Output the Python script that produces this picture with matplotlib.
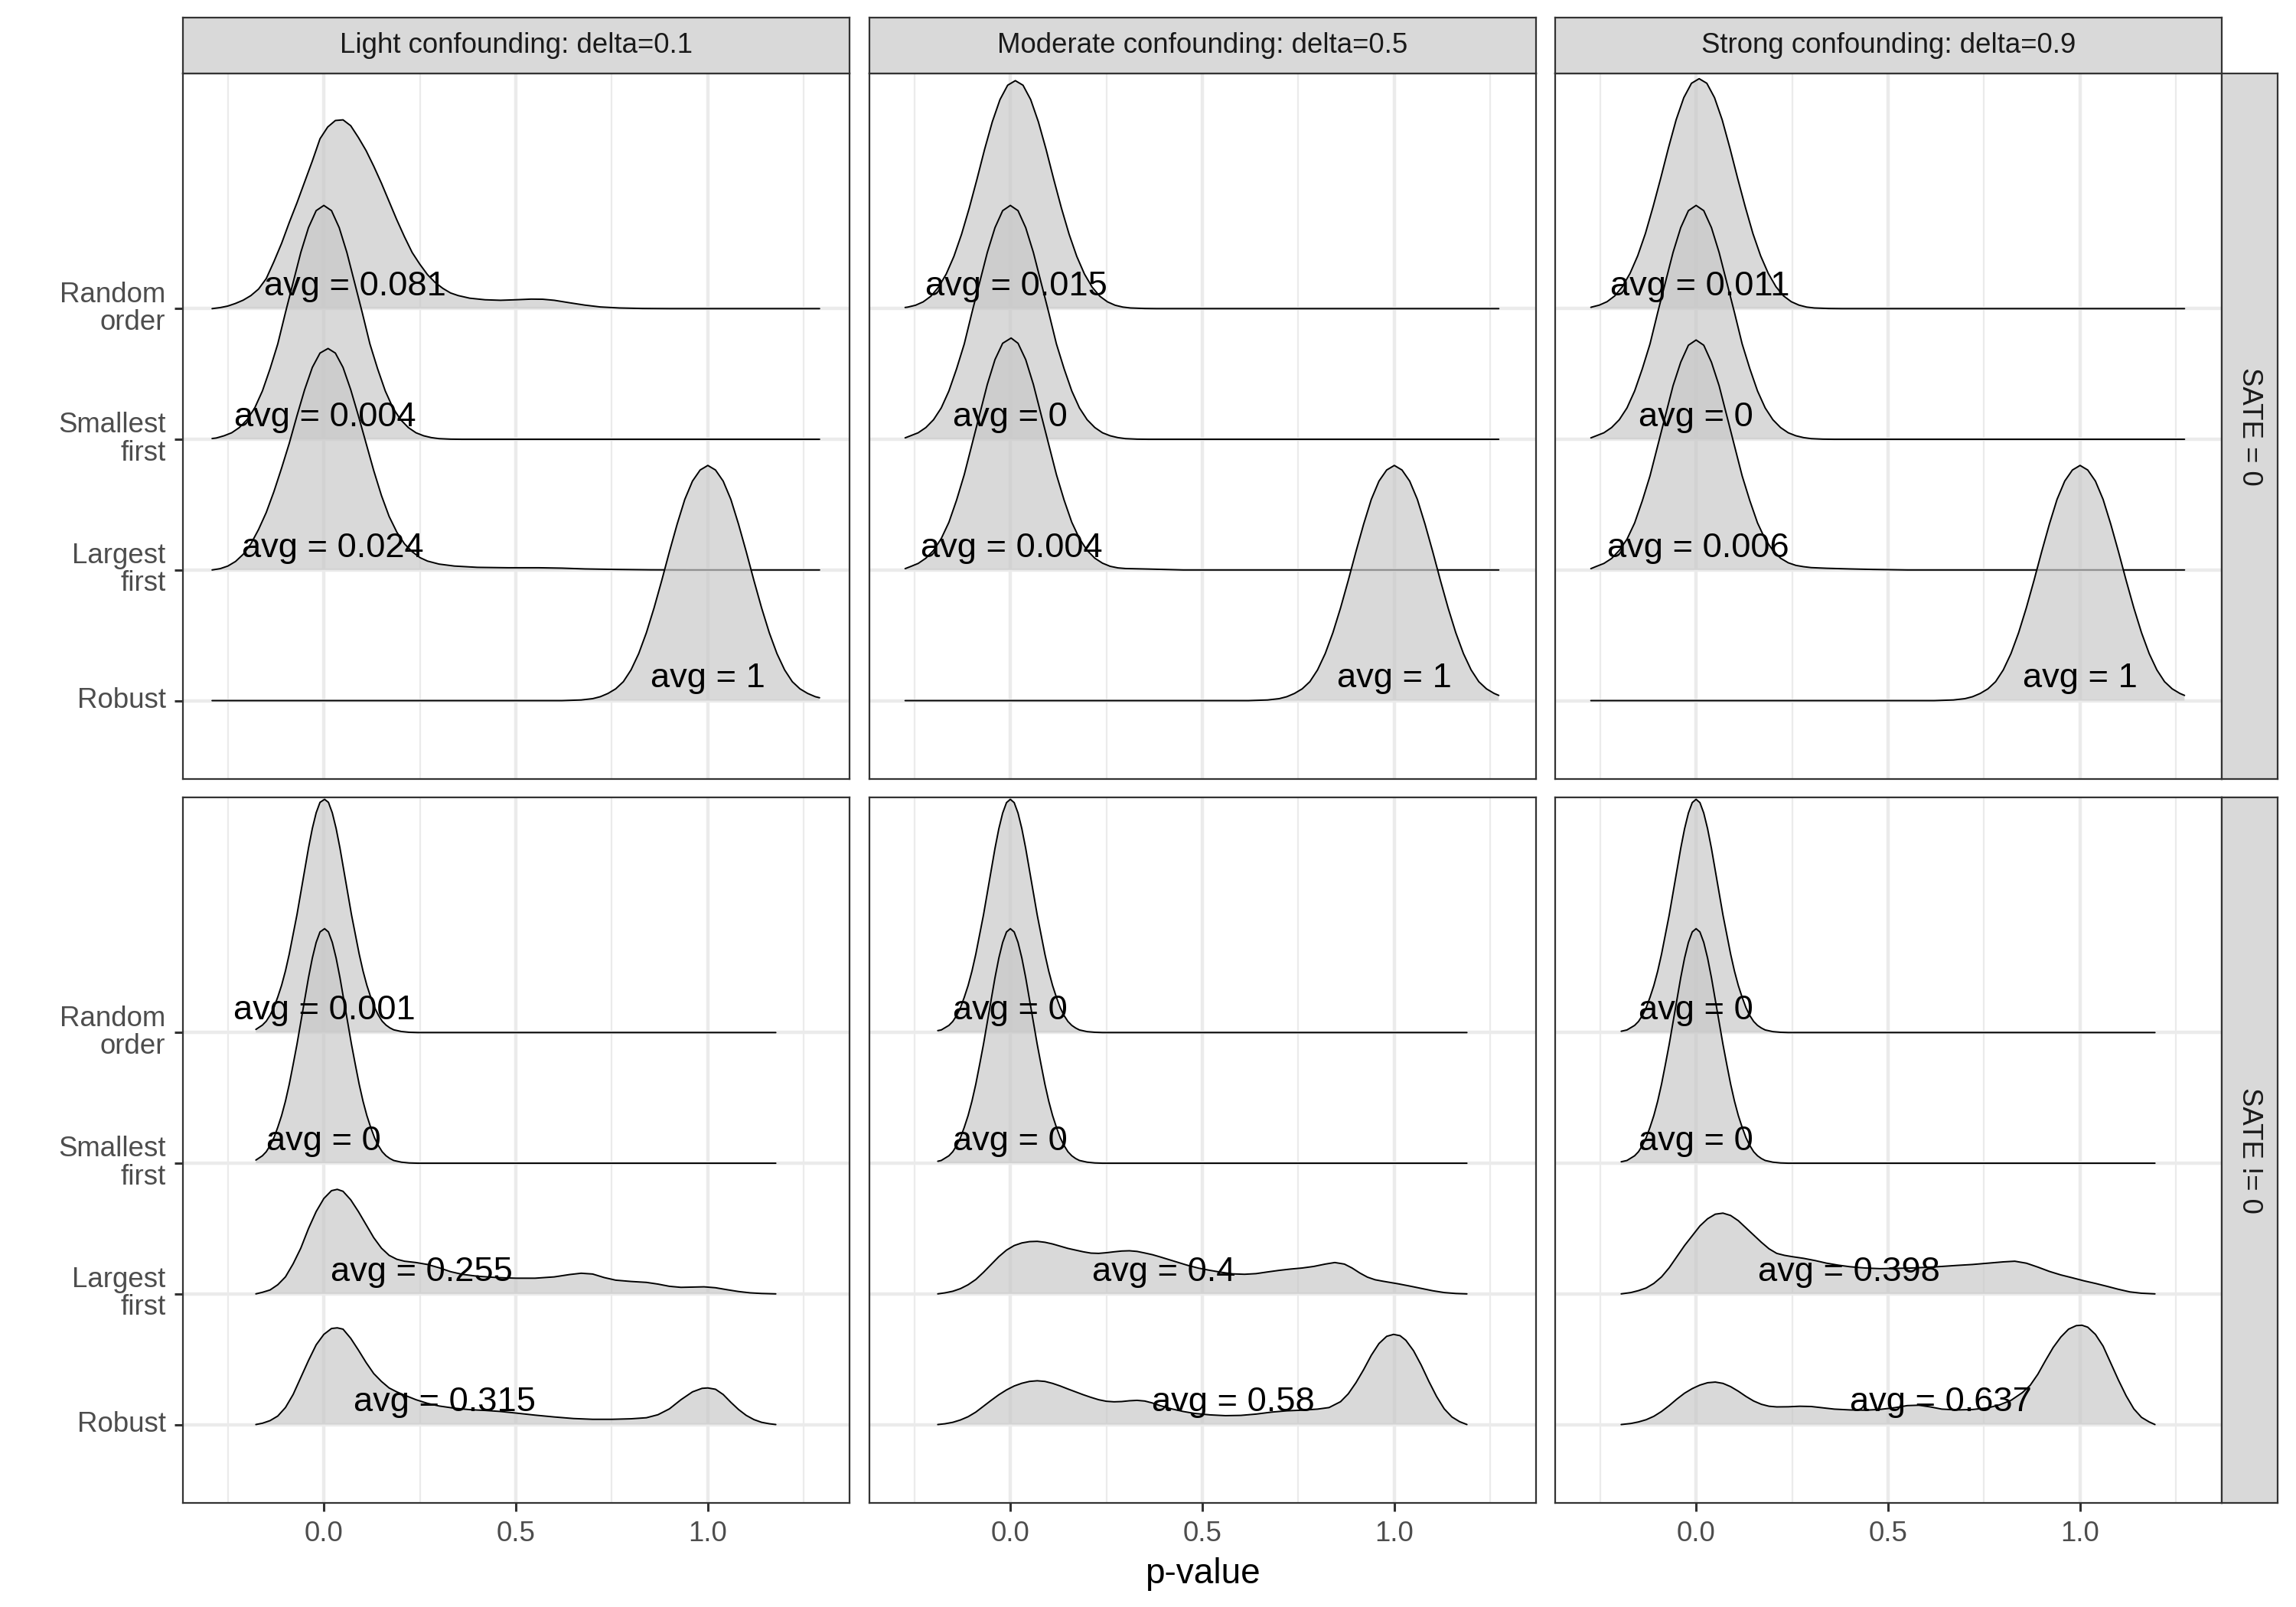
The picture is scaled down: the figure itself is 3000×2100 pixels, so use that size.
import matplotlib.pyplot as plt

plt.rcParams['font.family'] = ['Liberation Sans', 'DejaVu Sans']

# categories (bottom to top of each panel)
methods = ["Robust", "Largest\nfirst", "Smallest\nfirst", "Random\norder"]
confounding = ["Light confounding: delta=0.1",
               "Moderate confounding: delta=0.5",
               "Strong confounding: delta=0.9"]
sate_rows = ["SATE = 0", "SATE != 0"]

# average p-value per ridge, same order as methods
avg_null = [[1, 0.024, 0.004, 0.081],
            [1, 0.004, 0, 0.015],
            [1, 0.006, 0, 0.011]]
avg_alt = [[0.315, 0.255, 0, 0.001],
           [0.58, 0.4, 0, 0],
           [0.637, 0.398, 0, 0]]

# ridge heights (p-value, scaled density)
# --- SATE = 0, light confounding
null_light_random = [(-0.291, 0), (-0.27, 0.008), (-0.25, 0.02), (-0.23, 0.04), (-0.21, 0.065),
                     (-0.19, 0.10), (-0.17, 0.15), (-0.15, 0.23), (-0.13, 0.36), (-0.11, 0.50),
                     (-0.09, 0.66), (-0.07, 0.81), (-0.05, 0.97), (-0.03, 1.13), (-0.01, 1.30),
                     (0.01, 1.39), (0.03, 1.44), (0.05, 1.445), (0.07, 1.40), (0.09, 1.31),
                     (0.11, 1.21), (0.13, 1.09), (0.15, 0.96), (0.17, 0.82), (0.19, 0.68),
                     (0.21, 0.55), (0.23, 0.43), (0.25, 0.34), (0.27, 0.26), (0.29, 0.20),
                     (0.31, 0.155), (0.33, 0.12), (0.35, 0.10), (0.38, 0.08), (0.42, 0.068),
                     (0.46, 0.064), (0.50, 0.068), (0.54, 0.073), (0.57, 0.072), (0.60, 0.064),
                     (0.64, 0.045), (0.68, 0.027), (0.72, 0.013), (0.77, 0.005), (0.83, 0.001),
                     (0.9, 0), (1.291, 0)]
null_light_smallest = [(-0.291, 0.006), (-0.28, 0.01), (-0.26, 0.027), (-0.24, 0.05), (-0.22, 0.09),
                       (-0.20, 0.15), (-0.18, 0.24), (-0.16, 0.37), (-0.14, 0.54), (-0.12, 0.73),
                       (-0.10, 0.97), (-0.08, 1.20), (-0.06, 1.43), (-0.04, 1.62), (-0.02, 1.75),
                       (0.0, 1.79), (0.02, 1.75), (0.04, 1.62), (0.06, 1.43), (0.08, 1.20),
                       (0.10, 0.97), (0.12, 0.73), (0.14, 0.54), (0.16, 0.37), (0.18, 0.24),
                       (0.20, 0.15), (0.22, 0.09), (0.24, 0.05), (0.26, 0.027), (0.28, 0.013),
                       (0.30, 0.005), (0.33, 0.001), (0.36, 0), (1.291, 0)]
null_light_largest = [(-0.291, 0), (-0.27, 0.01), (-0.25, 0.03), (-0.23, 0.065), (-0.21, 0.12),
                      (-0.19, 0.20), (-0.17, 0.31), (-0.15, 0.44), (-0.13, 0.60), (-0.11, 0.78),
                      (-0.09, 0.97), (-0.07, 1.18), (-0.05, 1.38), (-0.03, 1.55), (-0.01, 1.66),
                      (0.011, 1.695), (0.03, 1.66), (0.05, 1.55), (0.07, 1.38), (0.09, 1.18),
                      (0.11, 0.97), (0.13, 0.76), (0.15, 0.57), (0.17, 0.41), (0.19, 0.29),
                      (0.21, 0.20), (0.23, 0.14), (0.25, 0.095), (0.27, 0.068), (0.30, 0.045),
                      (0.34, 0.03), (0.40, 0.02), (0.48, 0.017), (0.56, 0.017), (0.62, 0.014),
                      (0.68, 0.008), (0.76, 0.004), (0.85, 0.001), (0.95, 0), (1.291, 0)]
null_light_robust = [(-0.291, 0), (0.62, 0), (0.67, 0.005), (0.70, 0.015), (0.72, 0.03),
                     (0.74, 0.055), (0.76, 0.09), (0.78, 0.145), (0.80, 0.235), (0.82, 0.36),
                     (0.84, 0.52), (0.86, 0.71), (0.88, 0.92), (0.90, 1.14), (0.92, 1.35),
                     (0.94, 1.54), (0.96, 1.68), (0.98, 1.765), (1.0, 1.80), (1.02, 1.765),
                     (1.04, 1.68), (1.06, 1.54), (1.08, 1.35), (1.10, 1.14), (1.12, 0.92),
                     (1.14, 0.71), (1.16, 0.52), (1.18, 0.36), (1.20, 0.235), (1.22, 0.145),
                     (1.24, 0.09), (1.26, 0.055), (1.28, 0.03), (1.291, 0.022)]
# --- SATE = 0, moderate confounding
null_mod_random = [(-0.274, 0.009), (-0.267, 0.012), (-0.247, 0.026), (-0.227, 0.052),
                   (-0.207, 0.095), (-0.187, 0.165), (-0.167, 0.265), (-0.147, 0.40),
                   (-0.127, 0.57), (-0.107, 0.77), (-0.087, 0.99), (-0.067, 1.22),
                   (-0.047, 1.43), (-0.027, 1.60), (-0.007, 1.71), (0.013, 1.745),
                   (0.033, 1.71), (0.053, 1.60), (0.073, 1.43), (0.093, 1.22), (0.113, 0.99),
                   (0.133, 0.77), (0.153, 0.57), (0.173, 0.40), (0.193, 0.265), (0.213, 0.165),
                   (0.233, 0.095), (0.253, 0.052), (0.273, 0.026), (0.293, 0.012),
                   (0.313, 0.005), (0.35, 0.001), (0.38, 0), (1.272, 0)]
null_mod_smallest = [(-0.274, 0.011), (-0.26, 0.027), (-0.24, 0.05), (-0.22, 0.09), (-0.20, 0.15),
                     (-0.18, 0.24), (-0.16, 0.37), (-0.14, 0.54), (-0.12, 0.73), (-0.10, 0.97),
                     (-0.08, 1.20), (-0.06, 1.43), (-0.04, 1.62), (-0.02, 1.75), (0.0, 1.79),
                     (0.02, 1.75), (0.04, 1.62), (0.06, 1.43), (0.08, 1.20), (0.10, 0.97),
                     (0.12, 0.73), (0.14, 0.54), (0.16, 0.37), (0.18, 0.24), (0.20, 0.15),
                     (0.22, 0.09), (0.24, 0.05), (0.26, 0.027), (0.28, 0.013), (0.30, 0.005),
                     (0.33, 0.001), (0.36, 0), (1.272, 0)]
null_mod_largest = [(-0.274, 0.01), (-0.26, 0.026), (-0.24, 0.05), (-0.22, 0.09), (-0.20, 0.15),
                    (-0.18, 0.24), (-0.16, 0.365), (-0.14, 0.535), (-0.12, 0.73), (-0.10, 0.96),
                    (-0.08, 1.19), (-0.06, 1.42), (-0.04, 1.61), (-0.02, 1.735), (0.002, 1.775),
                    (0.02, 1.735), (0.04, 1.61), (0.06, 1.42), (0.08, 1.19), (0.10, 0.96),
                    (0.12, 0.73), (0.14, 0.535), (0.16, 0.365), (0.18, 0.24), (0.20, 0.15),
                    (0.22, 0.09), (0.24, 0.052), (0.26, 0.028), (0.28, 0.016), (0.30, 0.011),
                    (0.36, 0.007), (0.45, 0), (1.272, 0)]
null_mod_robust = [(-0.274, 0), (0.62, 0), (0.67, 0.005), (0.70, 0.015), (0.72, 0.03),
                   (0.74, 0.055), (0.76, 0.09), (0.78, 0.145), (0.80, 0.235), (0.82, 0.36),
                   (0.84, 0.52), (0.86, 0.71), (0.88, 0.92), (0.90, 1.14), (0.92, 1.35),
                   (0.94, 1.54), (0.96, 1.68), (0.98, 1.765), (1.0, 1.80), (1.02, 1.765),
                   (1.04, 1.68), (1.06, 1.54), (1.08, 1.35), (1.10, 1.14), (1.12, 0.92),
                   (1.14, 0.71), (1.16, 0.52), (1.18, 0.36), (1.20, 0.235), (1.22, 0.145),
                   (1.24, 0.09), (1.26, 0.055), (1.272, 0.04)]
# --- SATE = 0, strong confounding
null_strong_random = [(-0.274, 0.01), (-0.272, 0.012), (-0.252, 0.027), (-0.232, 0.053),
                      (-0.212, 0.097), (-0.192, 0.168), (-0.172, 0.27), (-0.152, 0.405),
                      (-0.132, 0.575), (-0.112, 0.78), (-0.092, 1.0), (-0.072, 1.23),
                      (-0.052, 1.445), (-0.032, 1.615), (-0.012, 1.725), (0.008, 1.76),
                      (0.028, 1.725), (0.048, 1.615), (0.068, 1.445), (0.088, 1.23), (0.108, 1.0),
                      (0.128, 0.78), (0.148, 0.575), (0.168, 0.405), (0.188, 0.27), (0.208, 0.168),
                      (0.228, 0.097), (0.248, 0.053), (0.268, 0.027), (0.288, 0.012),
                      (0.308, 0.005), (0.345, 0.001), (0.38, 0), (1.272, 0)]
null_strong_smallest = [(-0.274, 0.011), (-0.26, 0.027), (-0.24, 0.05), (-0.22, 0.09), (-0.20, 0.15),
                        (-0.18, 0.24), (-0.16, 0.37), (-0.14, 0.54), (-0.12, 0.73), (-0.10, 0.97),
                        (-0.08, 1.20), (-0.06, 1.43), (-0.04, 1.62), (-0.02, 1.75), (0.0, 1.79),
                        (0.02, 1.75), (0.04, 1.62), (0.06, 1.43), (0.08, 1.20), (0.10, 0.97),
                        (0.12, 0.73), (0.14, 0.54), (0.16, 0.37), (0.18, 0.24), (0.20, 0.15),
                        (0.22, 0.09), (0.24, 0.05), (0.26, 0.027), (0.28, 0.013), (0.30, 0.005),
                        (0.33, 0.001), (0.36, 0), (1.272, 0)]
null_strong_largest = [(-0.274, 0.01), (-0.26, 0.027), (-0.24, 0.05), (-0.22, 0.088), (-0.20, 0.15),
                       (-0.18, 0.235), (-0.16, 0.36), (-0.14, 0.53), (-0.12, 0.72), (-0.10, 0.95),
                       (-0.08, 1.18), (-0.06, 1.41), (-0.04, 1.59), (-0.02, 1.72), (0.0, 1.76),
                       (0.02, 1.72), (0.04, 1.59), (0.06, 1.41), (0.08, 1.18), (0.10, 0.95),
                       (0.12, 0.72), (0.14, 0.53), (0.16, 0.36), (0.18, 0.235), (0.20, 0.15),
                       (0.22, 0.09), (0.24, 0.055), (0.26, 0.035), (0.28, 0.025), (0.30, 0.018),
                       (0.34, 0.013), (0.40, 0.008), (0.46, 0.004), (0.55, 0), (1.272, 0)]
null_strong_robust = [(-0.274, 0), (0.62, 0), (0.67, 0.005), (0.70, 0.015), (0.72, 0.03),
                      (0.74, 0.055), (0.76, 0.09), (0.78, 0.145), (0.80, 0.235), (0.82, 0.36),
                      (0.84, 0.52), (0.86, 0.71), (0.88, 0.92), (0.90, 1.14), (0.92, 1.35),
                      (0.94, 1.54), (0.96, 1.68), (0.98, 1.765), (1.0, 1.80), (1.02, 1.765),
                      (1.04, 1.68), (1.06, 1.54), (1.08, 1.35), (1.10, 1.14), (1.12, 0.92),
                      (1.14, 0.71), (1.16, 0.52), (1.18, 0.36), (1.20, 0.235), (1.22, 0.145),
                      (1.24, 0.09), (1.26, 0.055), (1.272, 0.04)]
# --- SATE != 0, light confounding
alt_light_random = [(-0.177, 0.024), (-0.16, 0.057), (-0.15, 0.087), (-0.14, 0.133), (-0.13, 0.193),
                    (-0.12, 0.272), (-0.11, 0.362), (-0.10, 0.472), (-0.09, 0.602), (-0.08, 0.752),
                    (-0.07, 0.902), (-0.06, 1.072), (-0.05, 1.242), (-0.04, 1.412), (-0.03, 1.562),
                    (-0.02, 1.682), (-0.01, 1.762), (0.002, 1.785), (0.012, 1.762), (0.022, 1.682),
                    (0.032, 1.562), (0.042, 1.412), (0.052, 1.242), (0.062, 1.072), (0.072, 0.902),
                    (0.082, 0.752), (0.092, 0.602), (0.102, 0.472), (0.112, 0.362), (0.122, 0.272),
                    (0.132, 0.193), (0.142, 0.133), (0.152, 0.087), (0.162, 0.057), (0.172, 0.036),
                    (0.182, 0.021), (0.202, 0.008), (0.222, 0.002), (0.245, 0), (1.177, 0)]
alt_light_smallest = [(-0.177, 0.024), (-0.16, 0.057), (-0.15, 0.088), (-0.14, 0.135), (-0.13, 0.195),
                      (-0.12, 0.275), (-0.11, 0.365), (-0.10, 0.475), (-0.09, 0.605), (-0.08, 0.755),
                      (-0.07, 0.91), (-0.06, 1.08), (-0.05, 1.25), (-0.04, 1.42), (-0.03, 1.57),
                      (-0.02, 1.69), (-0.01, 1.77), (0.002, 1.795), (0.012, 1.77), (0.022, 1.69),
                      (0.032, 1.57), (0.042, 1.42), (0.052, 1.25), (0.062, 1.08), (0.072, 0.91),
                      (0.082, 0.755), (0.092, 0.605), (0.102, 0.475), (0.112, 0.365), (0.122, 0.275),
                      (0.132, 0.195), (0.142, 0.135), (0.152, 0.088), (0.162, 0.057), (0.172, 0.036),
                      (0.182, 0.021), (0.202, 0.008), (0.222, 0.002), (0.245, 0), (1.177, 0)]
alt_light_largest = [(-0.177, 0), (-0.16, 0.012), (-0.14, 0.03), (-0.12, 0.07), (-0.10, 0.13),
                     (-0.08, 0.23), (-0.06, 0.35), (-0.04, 0.50), (-0.02, 0.63), (0.0, 0.73),
                     (0.02, 0.79), (0.035, 0.80), (0.05, 0.785), (0.07, 0.72), (0.09, 0.63),
                     (0.11, 0.53), (0.13, 0.43), (0.15, 0.35), (0.17, 0.295), (0.19, 0.265),
                     (0.21, 0.25), (0.24, 0.24), (0.27, 0.225), (0.30, 0.20), (0.33, 0.17),
                     (0.36, 0.15), (0.40, 0.135), (0.45, 0.125), (0.50, 0.12), (0.55, 0.12),
                     (0.60, 0.13), (0.64, 0.148), (0.67, 0.158), (0.70, 0.152), (0.73, 0.125),
                     (0.76, 0.105), (0.80, 0.095), (0.84, 0.088), (0.87, 0.075), (0.90, 0.058),
                     (0.93, 0.05), (0.96, 0.052), (0.99, 0.054), (1.02, 0.047), (1.05, 0.032),
                     (1.08, 0.018), (1.11, 0.008), (1.14, 0.003), (1.177, 0)]
alt_light_robust = [(-0.177, 0), (-0.16, 0.01), (-0.14, 0.03), (-0.12, 0.065), (-0.10, 0.13),
                    (-0.08, 0.23), (-0.06, 0.36), (-0.04, 0.49), (-0.02, 0.61), (0.0, 0.69),
                    (0.02, 0.735), (0.035, 0.74), (0.05, 0.73), (0.07, 0.66), (0.09, 0.57),
                    (0.11, 0.475), (0.13, 0.39), (0.15, 0.33), (0.17, 0.28), (0.19, 0.25),
                    (0.21, 0.225), (0.24, 0.19), (0.27, 0.162), (0.30, 0.142), (0.34, 0.125),
                    (0.38, 0.114), (0.42, 0.108), (0.46, 0.10), (0.50, 0.088), (0.55, 0.072),
                    (0.60, 0.058), (0.65, 0.046), (0.70, 0.04), (0.75, 0.04), (0.80, 0.044),
                    (0.84, 0.052), (0.87, 0.075), (0.90, 0.12), (0.93, 0.19), (0.96, 0.25),
                    (0.985, 0.277), (1.0, 0.28), (1.02, 0.27), (1.04, 0.23), (1.06, 0.17),
                    (1.08, 0.115), (1.10, 0.07), (1.12, 0.038), (1.14, 0.017), (1.16, 0.006),
                    (1.177, 0)]
# --- SATE != 0, moderate confounding
alt_mod_random = [(-0.189, 0.015), (-0.18, 0.02), (-0.16, 0.055), (-0.15, 0.085), (-0.14, 0.13),
                  (-0.13, 0.19), (-0.12, 0.27), (-0.11, 0.36), (-0.10, 0.47), (-0.09, 0.60),
                  (-0.08, 0.75), (-0.07, 0.90), (-0.06, 1.07), (-0.05, 1.24), (-0.04, 1.41),
                  (-0.03, 1.56), (-0.02, 1.68), (-0.01, 1.76), (0.0, 1.785), (0.01, 1.76),
                  (0.02, 1.68), (0.03, 1.56), (0.04, 1.41), (0.05, 1.24), (0.06, 1.07),
                  (0.07, 0.90), (0.08, 0.75), (0.09, 0.60), (0.10, 0.47), (0.11, 0.36),
                  (0.12, 0.27), (0.13, 0.19), (0.14, 0.13), (0.15, 0.085), (0.16, 0.055),
                  (0.17, 0.035), (0.18, 0.02), (0.20, 0.007), (0.22, 0.002), (0.24, 0), (1.189, 0)]
alt_mod_smallest = [(-0.189, 0.015), (-0.18, 0.021), (-0.16, 0.057), (-0.15, 0.088), (-0.14, 0.135),
                    (-0.13, 0.195), (-0.12, 0.275), (-0.11, 0.365), (-0.10, 0.475), (-0.09, 0.605),
                    (-0.08, 0.755), (-0.07, 0.91), (-0.06, 1.08), (-0.05, 1.25), (-0.04, 1.42),
                    (-0.03, 1.57), (-0.02, 1.69), (-0.01, 1.77), (0.0, 1.795), (0.01, 1.77),
                    (0.02, 1.69), (0.03, 1.57), (0.04, 1.42), (0.05, 1.25), (0.06, 1.08),
                    (0.07, 0.91), (0.08, 0.755), (0.09, 0.605), (0.10, 0.475), (0.11, 0.365),
                    (0.12, 0.275), (0.13, 0.195), (0.14, 0.135), (0.15, 0.088), (0.16, 0.057),
                    (0.17, 0.036), (0.18, 0.021), (0.20, 0.008), (0.22, 0.002), (0.24, 0), (1.189, 0)]
alt_mod_largest = [(-0.189, 0), (-0.17, 0.008), (-0.15, 0.02), (-0.13, 0.04), (-0.11, 0.07),
                   (-0.09, 0.11), (-0.07, 0.165), (-0.05, 0.225), (-0.03, 0.285), (-0.01, 0.335),
                   (0.01, 0.37), (0.03, 0.39), (0.05, 0.40), (0.07, 0.402), (0.09, 0.395),
                   (0.11, 0.382), (0.13, 0.365), (0.15, 0.348), (0.17, 0.335), (0.19, 0.322),
                   (0.21, 0.312), (0.23, 0.31), (0.25, 0.315), (0.27, 0.322), (0.29, 0.328),
                   (0.31, 0.33), (0.33, 0.325), (0.35, 0.313), (0.37, 0.30), (0.39, 0.283),
                   (0.41, 0.265), (0.43, 0.247), (0.46, 0.22), (0.49, 0.197), (0.52, 0.18),
                   (0.55, 0.165), (0.58, 0.153), (0.61, 0.15), (0.64, 0.155), (0.67, 0.168),
                   (0.70, 0.18), (0.73, 0.19), (0.76, 0.198), (0.79, 0.21), (0.82, 0.228),
                   (0.845, 0.24), (0.87, 0.228), (0.89, 0.198), (0.91, 0.16), (0.93, 0.128),
                   (0.95, 0.108), (0.97, 0.097), (0.99, 0.087), (1.01, 0.077), (1.04, 0.06),
                   (1.07, 0.042), (1.10, 0.024), (1.13, 0.01), (1.16, 0.003), (1.189, 0)]
alt_mod_robust = [(-0.189, 0), (-0.17, 0.006), (-0.15, 0.017), (-0.13, 0.035), (-0.11, 0.06),
                  (-0.09, 0.095), (-0.07, 0.14), (-0.05, 0.185), (-0.03, 0.228), (-0.01, 0.265),
                  (0.01, 0.295), (0.03, 0.316), (0.05, 0.33), (0.07, 0.335), (0.09, 0.33),
                  (0.11, 0.315), (0.13, 0.295), (0.15, 0.272), (0.17, 0.25), (0.19, 0.228),
                  (0.21, 0.208), (0.23, 0.19), (0.25, 0.178), (0.27, 0.174), (0.29, 0.176),
                  (0.31, 0.182), (0.33, 0.185), (0.35, 0.18), (0.37, 0.165), (0.39, 0.145),
                  (0.42, 0.12), (0.45, 0.10), (0.48, 0.085), (0.52, 0.074), (0.56, 0.068),
                  (0.60, 0.07), (0.64, 0.08), (0.68, 0.095), (0.72, 0.105), (0.76, 0.11),
                  (0.80, 0.118), (0.83, 0.13), (0.86, 0.175), (0.88, 0.235), (0.90, 0.32),
                  (0.92, 0.42), (0.94, 0.53), (0.96, 0.62), (0.98, 0.675), (0.998, 0.69),
                  (1.015, 0.68), (1.03, 0.645), (1.05, 0.565), (1.07, 0.455), (1.09, 0.33),
                  (1.11, 0.215), (1.13, 0.12), (1.15, 0.058), (1.17, 0.022), (1.189, 0)]
# --- SATE != 0, strong confounding
alt_strong_random = [(-0.195, 0.01), (-0.18, 0.02), (-0.16, 0.055), (-0.15, 0.085), (-0.14, 0.13),
                     (-0.13, 0.19), (-0.12, 0.27), (-0.11, 0.36), (-0.10, 0.47), (-0.09, 0.60),
                     (-0.08, 0.75), (-0.07, 0.90), (-0.06, 1.07), (-0.05, 1.24), (-0.04, 1.41),
                     (-0.03, 1.56), (-0.02, 1.68), (-0.01, 1.76), (0.0, 1.785), (0.01, 1.76),
                     (0.02, 1.68), (0.03, 1.56), (0.04, 1.41), (0.05, 1.24), (0.06, 1.07),
                     (0.07, 0.90), (0.08, 0.75), (0.09, 0.60), (0.10, 0.47), (0.11, 0.36),
                     (0.12, 0.27), (0.13, 0.19), (0.14, 0.13), (0.15, 0.085), (0.16, 0.055),
                     (0.17, 0.035), (0.18, 0.02), (0.20, 0.007), (0.22, 0.002), (0.24, 0),
                     (1.195, 0)]
alt_strong_smallest = [(-0.195, 0.011), (-0.18, 0.021), (-0.16, 0.057), (-0.15, 0.088),
                       (-0.14, 0.135), (-0.13, 0.195), (-0.12, 0.275), (-0.11, 0.365),
                       (-0.10, 0.475), (-0.09, 0.605), (-0.08, 0.755), (-0.07, 0.91),
                       (-0.06, 1.08), (-0.05, 1.25), (-0.04, 1.42), (-0.03, 1.57), (-0.02, 1.69),
                       (-0.01, 1.77), (0.0, 1.795), (0.01, 1.77), (0.02, 1.69), (0.03, 1.57),
                       (0.04, 1.42), (0.05, 1.25), (0.06, 1.08), (0.07, 0.91), (0.08, 0.755),
                       (0.09, 0.605), (0.10, 0.475), (0.11, 0.365), (0.12, 0.275), (0.13, 0.195),
                       (0.14, 0.135), (0.15, 0.088), (0.16, 0.057), (0.17, 0.036), (0.18, 0.021),
                       (0.20, 0.008), (0.22, 0.002), (0.24, 0), (1.195, 0)]
alt_strong_largest = [(-0.195, 0), (-0.17, 0.01), (-0.15, 0.025), (-0.13, 0.045), (-0.11, 0.08),
                      (-0.09, 0.13), (-0.07, 0.20), (-0.05, 0.285), (-0.03, 0.37), (-0.01, 0.445),
                      (0.01, 0.52), (0.03, 0.575), (0.05, 0.61), (0.07, 0.618), (0.09, 0.60),
                      (0.11, 0.56), (0.13, 0.505), (0.15, 0.45), (0.17, 0.395), (0.19, 0.345),
                      (0.21, 0.31), (0.23, 0.295), (0.25, 0.285), (0.28, 0.272), (0.31, 0.255),
                      (0.34, 0.235), (0.37, 0.22), (0.40, 0.208), (0.44, 0.198), (0.48, 0.193),
                      (0.52, 0.195), (0.56, 0.198), (0.60, 0.203), (0.64, 0.21), (0.68, 0.218),
                      (0.72, 0.225), (0.76, 0.235), (0.80, 0.245), (0.83, 0.25), (0.86, 0.235),
                      (0.89, 0.205), (0.92, 0.172), (0.95, 0.145), (0.98, 0.123), (1.01, 0.10),
                      (1.04, 0.08), (1.07, 0.058), (1.10, 0.035), (1.13, 0.015), (1.16, 0.005),
                      (1.195, 0)]
alt_strong_robust = [(-0.195, 0), (-0.17, 0.008), (-0.15, 0.02), (-0.13, 0.037), (-0.11, 0.063),
                     (-0.09, 0.10), (-0.07, 0.145), (-0.05, 0.195), (-0.03, 0.24), (-0.01, 0.275),
                     (0.01, 0.302), (0.03, 0.32), (0.05, 0.325), (0.07, 0.315), (0.09, 0.29),
                     (0.11, 0.255), (0.13, 0.215), (0.15, 0.18), (0.17, 0.155), (0.19, 0.14),
                     (0.21, 0.135), (0.24, 0.136), (0.27, 0.14), (0.30, 0.138), (0.33, 0.128),
                     (0.36, 0.118), (0.40, 0.112), (0.44, 0.11), (0.48, 0.116), (0.52, 0.13),
                     (0.55, 0.145), (0.58, 0.148), (0.61, 0.135), (0.64, 0.118), (0.68, 0.112),
                     (0.72, 0.115), (0.76, 0.128), (0.79, 0.15), (0.82, 0.185), (0.85, 0.245),
                     (0.87, 0.30), (0.89, 0.385), (0.91, 0.49), (0.93, 0.59), (0.95, 0.67),
                     (0.97, 0.73), (0.99, 0.757), (1.005, 0.76), (1.02, 0.745), (1.04, 0.69),
                     (1.06, 0.60), (1.08, 0.47), (1.10, 0.34), (1.12, 0.22), (1.14, 0.12),
                     (1.16, 0.055), (1.18, 0.02), (1.195, 0)]

ridges = [
    [[null_light_robust, null_light_largest, null_light_smallest, null_light_random],
     [null_mod_robust, null_mod_largest, null_mod_smallest, null_mod_random],
     [null_strong_robust, null_strong_largest, null_strong_smallest, null_strong_random]],
    [[alt_light_robust, alt_light_largest, alt_light_smallest, alt_light_random],
     [alt_mod_robust, alt_mod_largest, alt_mod_smallest, alt_mod_random],
     [alt_strong_robust, alt_strong_largest, alt_strong_smallest, alt_strong_random]],
]
avgs = [avg_null, avg_alt]

W, H = 3000, 2100
fig = plt.figure(figsize=(15, 10.5), dpi=200)

col_left = [239, 1136, 2032]
panel_w = 871
row_top = [96, 1042]
panel_h = 922

GRID = '#EBEBEB'
DARK = '#333333'
FILL = '#C8C8C8'

for r in range(2):
    for c in range(3):
        ax = fig.add_axes([col_left[c] / W, 1 - (row_top[r] + panel_h) / H,
                           panel_w / W, panel_h / H])
        ax.set_xlim(-0.367, 1.369)
        ax.set_ylim(0.4, 5.8)
        ax.set_xticks([0, 0.5, 1.0])
        ax.set_xticks([-0.25, 0.25, 0.75, 1.25], minor=True)
        ax.set_yticks([1, 2, 3, 4])
        ax.set_axisbelow(True)
        ax.grid(which='major', color=GRID, lw=1.6)
        ax.grid(which='minor', axis='x', color=GRID, lw=0.8)
        ax.tick_params(which='minor', length=0)
        ax.tick_params(which='major', length=4.1, width=1.1, color=DARK,
                       labelsize=13.2, labelcolor='#4D4D4D', pad=4)
        for s in ax.spines.values():
            s.set_color(DARK)
            s.set_linewidth(0.8)
            s.set_zorder(20)

        if c == 0:
            ax.set_yticklabels(methods, linespacing=1.05, ha='right', va='center')
        else:
            ax.tick_params(axis='y', length=0, labelleft=False)
        if r == 1:
            ax.set_xticklabels(['0.0', '0.5', '1.0'])
        else:
            ax.tick_params(axis='x', length=0, labelbottom=False)

        # ridges, top one first so the lower ones lie over it
        for k in (3, 2, 1, 0):
            pts = ridges[r][c][k]
            xs = [p[0] for p in pts]
            ys = [k + 1 + p[1] for p in pts]
            z = 2 + (3 - k) * 2
            ax.fill_between(xs, k + 1, ys, facecolor=FILL, alpha=0.69, lw=0, zorder=z)
            ax.plot(xs, ys, color='black', lw=0.7, zorder=z + 1,
                    solid_joinstyle='round', solid_capstyle='round')

        for k in range(4):
            v = avgs[r][c][k]
            ax.text(v, k + 1.1, 'avg = {:g}'.format(v), ha='center', va='baseline',
                    fontsize=16.3, color='black', zorder=15)

# column strips
for c in range(3):
    sx = fig.add_axes([col_left[c] / W, 1 - 96 / H, panel_w / W, 73 / H])
    sx.set_facecolor('#D9D9D9')
    sx.set_xticks([])
    sx.set_yticks([])
    for s in sx.spines.values():
        s.set_color(DARK)
        s.set_linewidth(0.8)
    sx.text(0.5, 0.5, confounding[c], transform=sx.transAxes, ha='center', va='center',
            fontsize=13.2, color='#1A1A1A')

# row strips
for r in range(2):
    sy = fig.add_axes([2903 / W, 1 - (row_top[r] + panel_h) / H, 73 / W, panel_h / H])
    sy.set_facecolor('#D9D9D9')
    sy.set_xticks([])
    sy.set_yticks([])
    for s in sy.spines.values():
        s.set_color(DARK)
        s.set_linewidth(0.8)
    sy.text(0.5, 0.5, sate_rows[r], transform=sy.transAxes, ha='center', va='center',
            rotation=-90, fontsize=13.2, color='#1A1A1A')

fig.text(1571 / W, 1 - 2057 / H, 'p-value', ha='center', va='center', fontsize=16.5, color='black')

fig.savefig('out.png', dpi=200, facecolor='white')
